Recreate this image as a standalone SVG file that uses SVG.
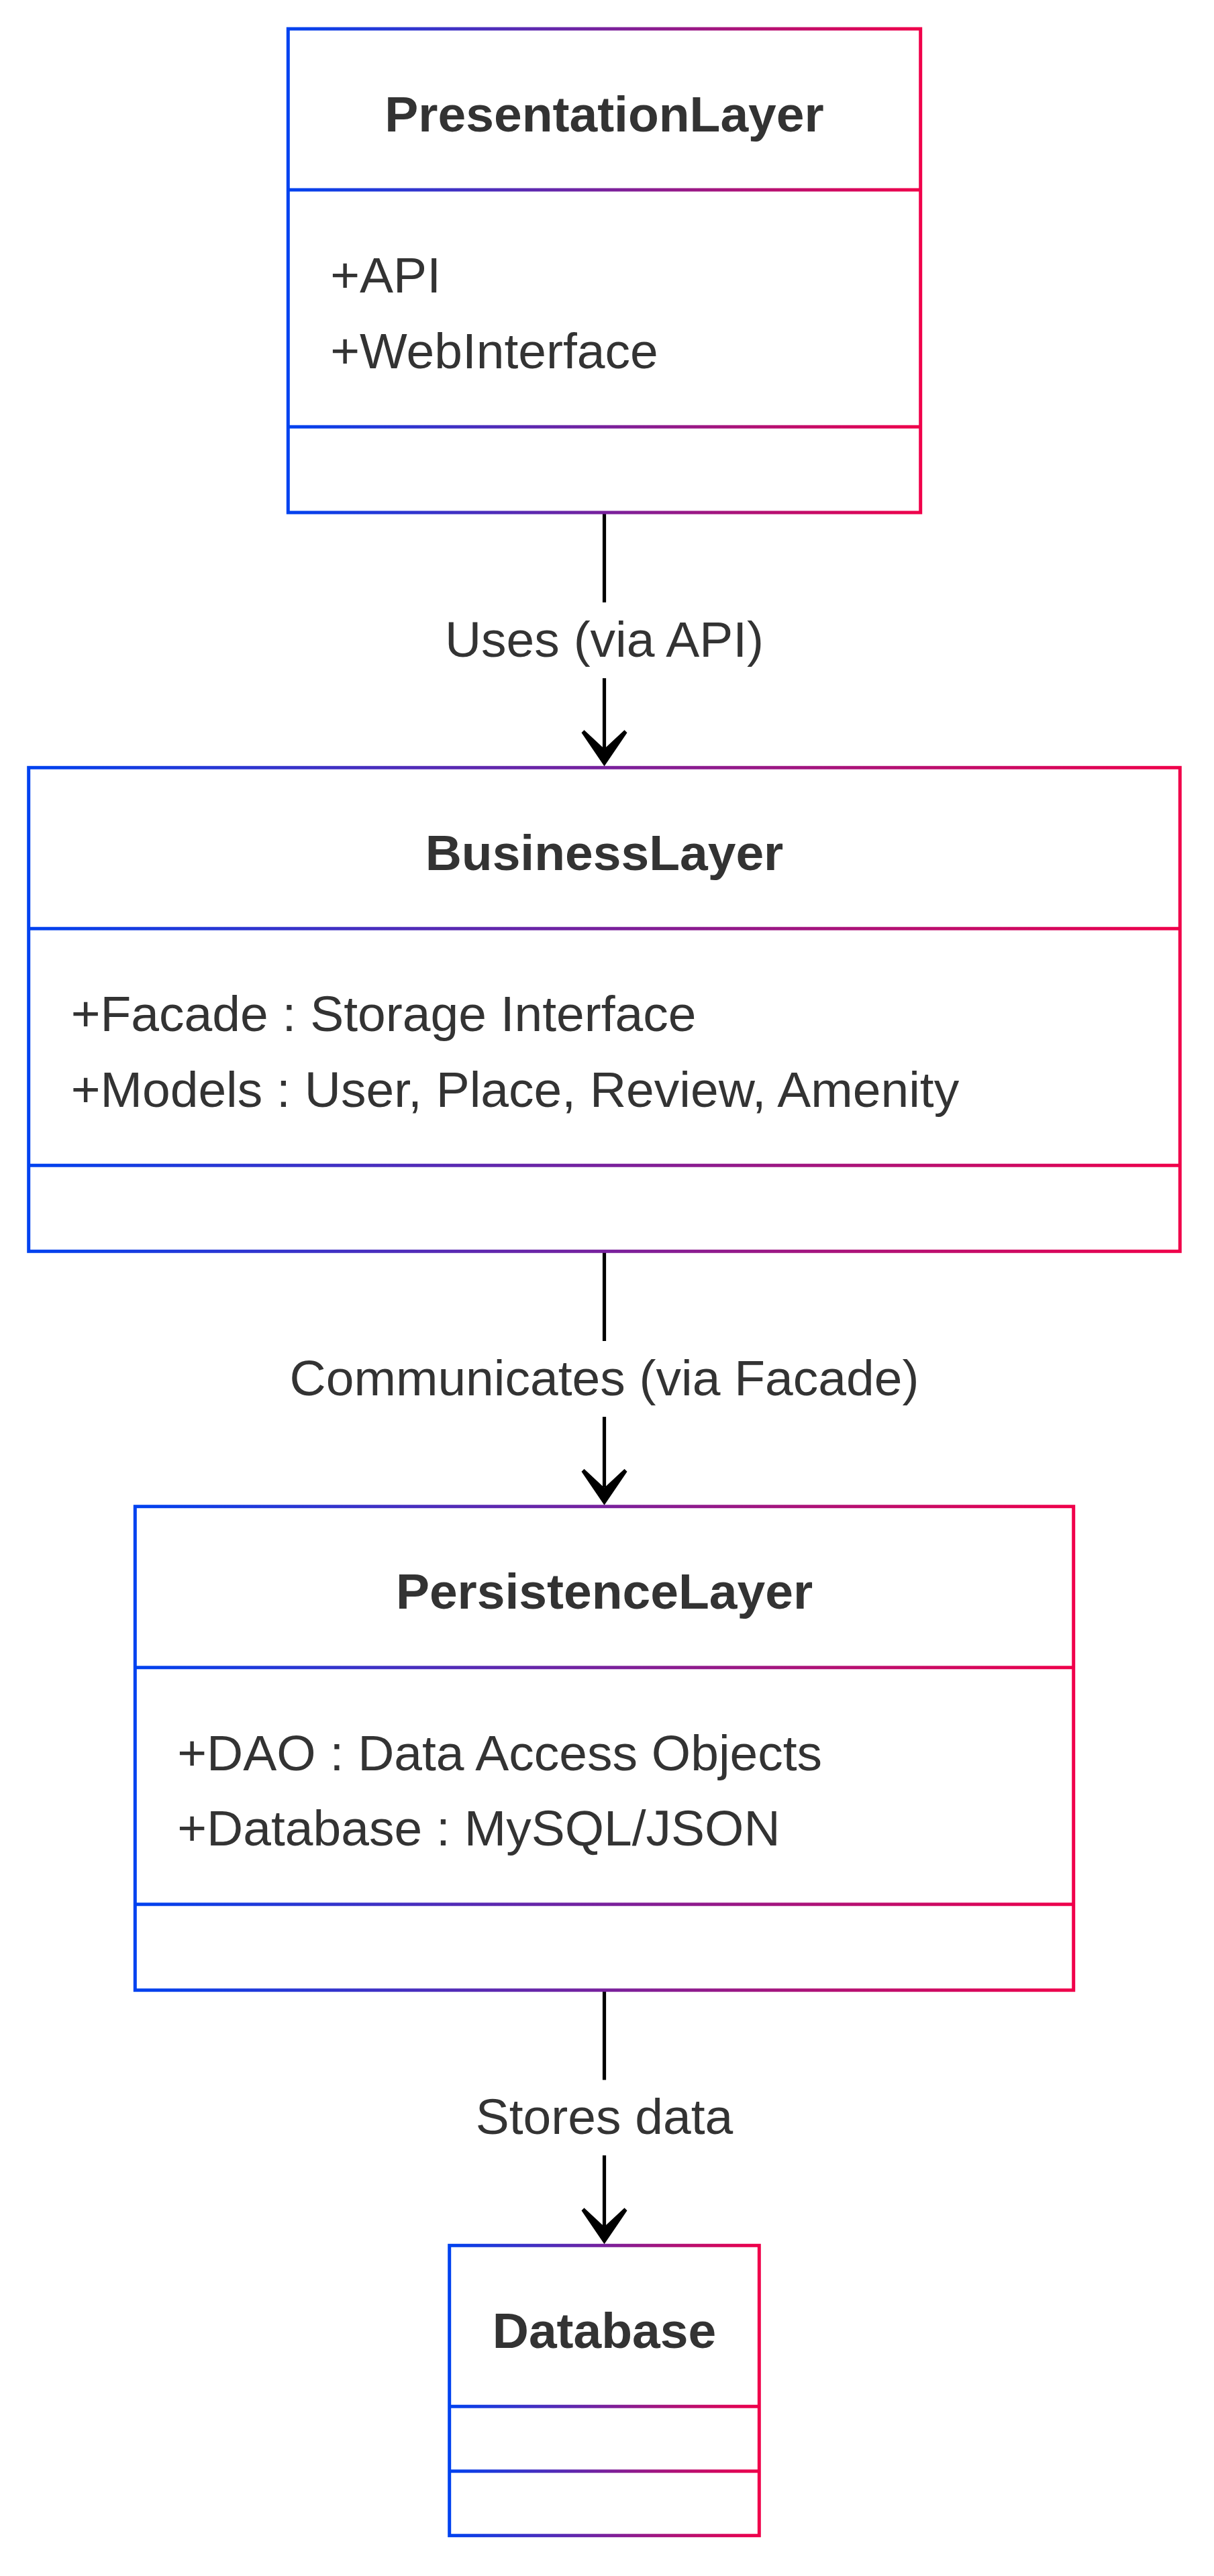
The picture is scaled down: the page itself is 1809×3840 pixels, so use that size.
<svg xmlns="http://www.w3.org/2000/svg" width="1809" height="3840" viewBox="0 0 1809 3840">
  <style>
    .box { fill: #ffffff; stroke-width: 5; }
    .div { stroke-width: 5; fill: none; }
    .title { font-family: "Liberation Sans", Arial, sans-serif; font-weight: bold; font-size: 75px; fill: #333333; text-anchor: middle; }
    .member { font-family: "Liberation Sans", Arial, sans-serif; font-size: 75px; fill: #333333; }
    .label { font-family: "Liberation Sans", Arial, sans-serif; font-size: 75px; fill: #333333; text-anchor: middle; }
    .edge { stroke: #000000; stroke-width: 5.2; fill: none; }
  </style>
  <defs>
    <linearGradient id="g1" gradientUnits="userSpaceOnUse" x1="429.3" y1="0" x2="1371.7" y2="0">
      <stop offset="0" stop-color="#0042F0"/>
      <stop offset="1" stop-color="#F0004A"/>
    </linearGradient>
    <linearGradient id="g2" gradientUnits="userSpaceOnUse" x1="42.7" y1="0" x2="1758.3" y2="0">
      <stop offset="0" stop-color="#0042F0"/>
      <stop offset="1" stop-color="#F0004A"/>
    </linearGradient>
    <linearGradient id="g3" gradientUnits="userSpaceOnUse" x1="201.3" y1="0" x2="1599.7" y2="0">
      <stop offset="0" stop-color="#0042F0"/>
      <stop offset="1" stop-color="#F0004A"/>
    </linearGradient>
    <linearGradient id="g4" gradientUnits="userSpaceOnUse" x1="669.7" y1="0" x2="1131.3" y2="0">
      <stop offset="0" stop-color="#0042F0"/>
      <stop offset="1" stop-color="#F0004A"/>
    </linearGradient>
    <marker id="arrow" markerUnits="userSpaceOnUse" viewBox="-58 -38 62 76" refX="-26" refY="0" markerWidth="62" markerHeight="76" orient="auto" overflow="visible">
      <path d="M0,0 L-50,-34 L-54,-30 L-26,0 L-54,30 L-50,34 Z" fill="#000000"/>
    </marker>
  </defs>

  <rect x="0" y="0" width="1809" height="3840" fill="#ffffff"/>

  <g id="connectors">
    <g id="edge-presentation-business">
      <line class="edge" x1="900.5" y1="764" x2="900.5" y2="898"/>
      <line class="edge" x1="900.5" y1="1011" x2="900.5" y2="1116.3" marker-end="url(#arrow)"/>
      <text class="label" x="900.5" y="979">Uses (via API)</text>
    </g>
    <g id="edge-business-persistence">
      <line class="edge" x1="900.5" y1="1865.3" x2="900.5" y2="1999"/>
      <line class="edge" x1="900.5" y1="2112" x2="900.5" y2="2217.7" marker-end="url(#arrow)"/>
      <text class="label" x="900.5" y="2080">Communicates (via Facade)</text>
    </g>
    <g id="edge-persistence-database">
      <line class="edge" x1="900.5" y1="2966.7" x2="900.5" y2="3100.5"/>
      <line class="edge" x1="900.5" y1="3213" x2="900.5" y2="3319.3" marker-end="url(#arrow)"/>
      <text class="label" x="900.5" y="3180.5">Stores data</text>
    </g>
  </g>

  <g id="PresentationLayer">
    <rect class="box" x="429.3" y="43" width="942.4" height="721" stroke="url(#g1)"/>
    <line class="div" x1="429.3" y1="283" x2="1371.7" y2="283" stroke="url(#g1)"/>
    <line class="div" x1="429.3" y1="636.3" x2="1371.7" y2="636.3" stroke="url(#g1)"/>
    <text class="title" x="900.5" y="195.5">PresentationLayer</text>
    <text class="member" x="492.3" y="436">+API</text>
    <text class="member" x="492.3" y="548.5">+WebInterface</text>
  </g>

  <g id="BusinessLayer">
    <rect class="box" x="42.7" y="1144.3" width="1715.6" height="721" stroke="url(#g2)"/>
    <line class="div" x1="42.7" y1="1384.3" x2="1758.3" y2="1384.3" stroke="url(#g2)"/>
    <line class="div" x1="42.7" y1="1737.3" x2="1758.3" y2="1737.3" stroke="url(#g2)"/>
    <text class="title" x="900.5" y="1296.8">BusinessLayer</text>
    <text class="member" x="105.7" y="1537.3">+Facade : Storage Interface</text>
    <text class="member" x="105.7" y="1649.8">+Models : User, Place, Review, Amenity</text>
  </g>

  <g id="PersistenceLayer">
    <rect class="box" x="201.3" y="2245.7" width="1398.4" height="721" stroke="url(#g3)"/>
    <line class="div" x1="201.3" y1="2485.7" x2="1599.7" y2="2485.7" stroke="url(#g3)"/>
    <line class="div" x1="201.3" y1="2838.7" x2="1599.7" y2="2838.7" stroke="url(#g3)"/>
    <text class="title" x="900.5" y="2398.2">PersistenceLayer</text>
    <text class="member" x="264.3" y="2638.7">+DAO : Data Access Objects</text>
    <text class="member" x="264.3" y="2751.2">+Database : MySQL/JSON</text>
  </g>

  <g id="Database">
    <rect class="box" x="669.7" y="3347.3" width="461.6" height="432.4" stroke="url(#g4)"/>
    <line class="div" x1="669.7" y1="3587.3" x2="1131.3" y2="3587.3" stroke="url(#g4)"/>
    <line class="div" x1="669.7" y1="3683.7" x2="1131.3" y2="3683.7" stroke="url(#g4)"/>
    <text class="title" x="900.5" y="3499.8">Database</text>
  </g>
</svg>
